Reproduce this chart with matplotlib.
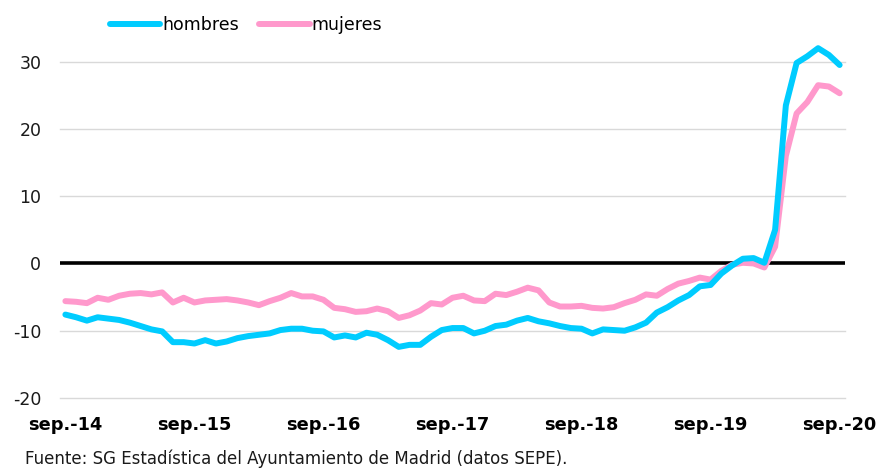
import matplotlib
matplotlib.use("Agg")
import matplotlib.pyplot as plt
import numpy as np

meses = ["ene.", "feb.", "mar.", "abr.", "may.", "jun.", "jul.", "ago.", "sep.", "oct.", "nov.", "dic."]
# Monthly categories from sep.-14 to sep.-20
categorias = []
for k in range(73):
    m = (8 + k) % 12
    y = 14 + (8 + k) // 12
    categorias.append(f"{meses[m]}-{y}")

hombres = [-7.6, -8.0, -8.5, -8.0, -8.2, -8.4, -8.8, -9.3, -9.8, -10.1,
           -11.7, -11.7, -11.9, -11.4, -11.9, -11.6, -11.1, -10.8, -10.6, -10.4,
           -9.9, -9.7, -9.7, -10.0, -10.1, -11.0, -10.7, -11.0, -10.3, -10.6,
           -11.4, -12.4, -12.1, -12.1, -10.9, -9.9, -9.6, -9.6, -10.4, -10.0,
           -9.3, -9.1, -8.5, -8.1, -8.6, -8.9, -9.3, -9.6, -9.7, -10.4,
           -9.8, -9.9, -10.0, -9.5, -8.8, -7.3, -6.5, -5.5, -4.7, -3.4,
           -3.2, -1.5, -0.3, 0.7, 0.8, 0.1, 5.0, 23.5, 29.8, 30.8,
           32.0, 31.0, 29.5]

mujeres = [-5.6, -5.7, -5.9, -5.1, -5.4, -4.8, -4.5, -4.4, -4.6, -4.3,
           -5.8, -5.1, -5.8, -5.5, -5.4, -5.3, -5.5, -5.8, -6.2, -5.6,
           -5.1, -4.4, -4.9, -4.9, -5.4, -6.6, -6.8, -7.2, -7.1, -6.7,
           -7.1, -8.1, -7.7, -7.0, -5.9, -6.1, -5.1, -4.8, -5.5, -5.6,
           -4.5, -4.7, -4.2, -3.6, -4.0, -5.8, -6.4, -6.4, -6.3, -6.6,
           -6.7, -6.5, -5.9, -5.4, -4.6, -4.8, -3.8, -3.0, -2.6, -2.1,
           -2.4, -1.1, -0.2, 0.1, 0.0, -0.6, 2.5, 16.0, 22.3, 24.0,
           26.5, 26.3, 25.3]

yticks = [-20, -10, 0, 10, 20, 30]

plt.rcParams['font.family'] = ['DejaVu Sans']

fig = plt.figure(figsize=(8.82, 4.68), dpi=100)
ax = fig.add_axes([60/882, 1 - 398/468, 785/882, (398 - 28)/468])

x = np.arange(len(categorias))
for yv in yticks:
    if yv != 0:
        ax.axhline(yv, color="#D9D9D9", lw=1.0, zorder=1, clip_on=False)
ax.axhline(0, color="black", lw=2.6, zorder=2)

l1, = ax.plot(x, hombres, color="#00CCFF", lw=4.3, solid_capstyle="round",
              solid_joinstyle="round", label="hombres", zorder=4, clip_on=False)
l2, = ax.plot(x, mujeres, color="#FF99CC", lw=4.3, solid_capstyle="round",
              solid_joinstyle="round", label="mujeres", zorder=3, clip_on=False)

ax.set_xlim(-0.5, len(categorias) - 0.5)
ax.set_ylim(-20, 35)
ax.set_yticks(yticks)
ax.set_yticklabels([str(v) for v in yticks], fontsize=12.5, color="#1a1a1a")
tick_idx = list(range(0, len(categorias), 12))
ax.set_xticks(tick_idx)
ax.set_xticklabels([categorias[i] for i in tick_idx], fontsize=12.8, fontweight="bold", color="black")
ax.tick_params(axis="both", length=0)
ax.tick_params(axis="y", pad=13.5)
ax.tick_params(axis="x", pad=13)
for s in ax.spines.values():
    s.set_visible(False)

fig.legend(handles=[l1, l2], loc="center", bbox_to_anchor=(246/882, 1 - 25/468), ncol=2,
           frameon=False, fontsize=12.5, handlelength=2.9, handletextpad=0.1,
           columnspacing=1.2, borderaxespad=0)

fig.text(25/882, 1 - 459/468, "Fuente: SG Estadística del Ayuntamiento de Madrid (datos SEPE).",
         fontsize=12, color="#1a1a1a", ha="left", va="center")

fig.savefig("out.png", dpi=100)
